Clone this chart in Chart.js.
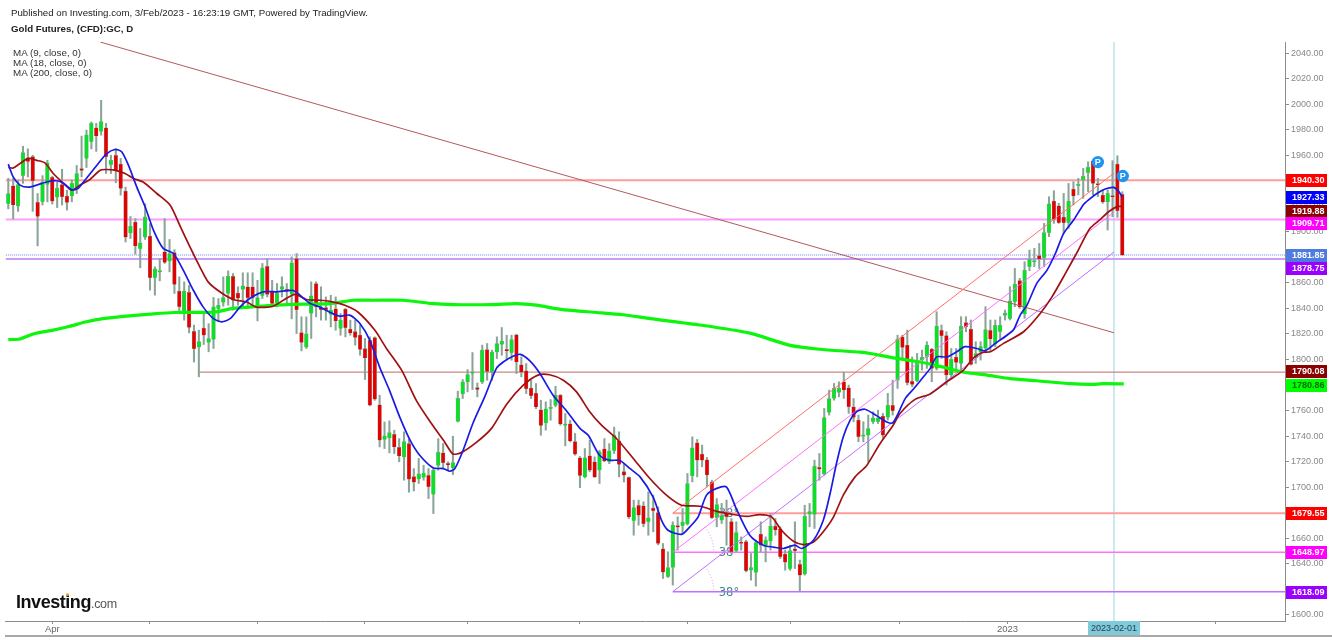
<!DOCTYPE html>
<html>
<head>
<meta charset="utf-8">
<title>Gold Futures</title>
<script src="https://cdn.jsdelivr.net/npm/chart.js@4"></script>
<style>
  body { margin: 0; background: #fff; font-family: "Liberation Sans", Arial, sans-serif; }
  #wrap { position: relative; width: 1332px; height: 640px; overflow: hidden; }
  canvas { position: absolute; left: 0; top: 0; }
  .txt { position: absolute; color: #222; white-space: nowrap; }
  .published { left: 11px; top: 7px; font-size: 9.7px; }
  .name { left: 11px; top: 23px; font-size: 9.7px; font-weight: bold; }
  .ma { left: 13px; font-size: 9.8px; line-height: 10px; color: #333; }
  .logo { left: 16px; top: 592px; font-size: 18px; font-weight: bold; color: #111; letter-spacing: -0.45px; }
  .logo span { font-size: 12.5px; font-weight: normal; color: #555; letter-spacing: -0.3px; }
  .dot { position: absolute; left: 66px; top: 593px; width: 3px; height: 3px; background: #f5a623; border-radius: 2px; }
</style>
</head>
<body>
<div id="wrap">
  <canvas id="chart" width="1332" height="640"></canvas>
  <div class="txt published">Published on Investing.com, 3/Feb/2023 - 16:23:19 GMT, Powered by TradingView.</div>
  <div class="txt name">Gold Futures, (CFD):GC, D</div>
  <div class="txt ma" style="top:48px">MA (9, close, 0)</div>
  <div class="txt ma" style="top:58px">MA (18, close, 0)</div>
  <div class="txt ma" style="top:68px">MA (200, close, 0)</div>
  <div class="txt logo">Investing<span>.com</span></div>
  <div class="dot"></div>
</div>
<script>
const opens = [1922,1936,1920,1944,1958,1959,1923,1923.5,1937,1942.6,1927,1937,1928,1928,1933.4,1949.6,1957.5,1970.5,1981.5,1978.6,1981.5,1952.5,1960,1953,1932,1899,1907.6,1886.7,1895.8,1896.6,1864,1868.4,1884.3,1877,1883.8,1853.5,1836.5,1852.5,1822,1809.6,1824.5,1813.3,1815.6,1839.7,1844.6,1851.7,1865.2,1852,1854.8,1856.9,1856.9,1840.4,1850,1873,1853.5,1843.8,1854.8,1855,1851,1879,1821,1809.6,1836,1859.5,1840.7,1840.7,
  1835.2,1839.6,1824.2,1839.4,1823.7,1821.9,1819,1808.6,1815,1817.2,1764.4,1737.2,1738.5,1741.4,1731.2,1723.4,1734.1,1708.3,1706.2,1707.5,1709.3,1694.2,1716.9,1726.8,1718.2,1715,1751.4,1773,1782.4,1789,1778,1782.2,1807.8,1790.3,1805.7,1811.7,1808,1805.2,1819.3,1795.8,1791,1777.5,1773.6,1760.5,1750.3,1761.3,1763.9,1772,1748.2,1749.5,1735.7,1722.9,1708,1724.4,1719.8,1713.2,1729.9,1719.8,1728.4,1736.2,1712.2,1707.7,
  1673.6,1685.8,1685.3,1672.8,1683.5,1680.1,1651.6,1629.7,1637,1669.4,1669.7,1671,1708.6,1734.7,1725.8,1721.4,1703.9,1675.9,1674.1,1679.8,1673,1650.1,1656.1,1657.4,1634.9,1633.1,1663.1,1654.5,1657.6,1669.4,1667.3,1647.5,1636,1651.6,1639.4,1631.8,1678.8,1678.5,1715.4,1710.1,1758.5,1769.4,1774.1,1782.5,1777.8,1762.9,1752.5,1739.7,1740.7,1751.1,1751.1,1755.6,1754.5,1764,
  1783.8,1817.8,1811.3,1782.8,1783.3,1799.5,1802.1,1808.1,1793,1822.8,1818.8,1787.8,1801.9,1796.9,1828.8,1823.8,1801.3,1805.8,1808.7,1822.8,1812,1821.7,1834.5,1831.9,1845.2,1861.7,1835.6,1872.6,1876.3,1881.3,1879.7,1899.3,1924.1,1920.4,1911.6,1907.1,1933.5,1936.1,1940.6,1946.3,1955.7,1937.2,1928.8,1923.3,1927.5,1953.1,1929.3];
const highs = [1942,1942,1940.5,1967,1965,1960,1930,1944,1956,1943.6,1939,1949,1932.6,1940.5,1952,1975,1979.7,1986,1985,2003,1985,1960,1965,1957.5,1935,1912,1910.4,1902.6,1922,1906.5,1872.6,1879,1910.4,1894,1886,1864.7,1860.8,1858,1826.9,1823,1836,1828,1848.5,1847.7,1864.7,1869.4,1867.3,1856.9,1867.9,1867.9,1867.9,1862,1875.2,1879,1862,1859.5,1864.7,1859.5,1880.4,1883,1833.4,1833.4,1860.8,1860.8,1856.9,1849,
  1850.3,1849,1836,1839.9,1830.8,1830.8,1826.8,1816.4,1817.7,1817.7,1772,1751,1751.9,1744.6,1738,1743.3,1738,1714.5,1722.4,1717.1,1714.5,1714.5,1738,1734.1,1719.8,1739.9,1775.1,1784.3,1792.1,1805.4,1781.6,1811.2,1812.5,1807.3,1817.7,1825,1819,1819,1819.8,1802,1796.8,1783.7,1781.1,1768.1,1766.8,1768.6,1779,1772.5,1757.6,1752.4,1742,1724,1730.2,1736.7,1723.7,1728.9,1738,1734.1,1747,1743.3,1718.4,1708,
  1689.8,1689.8,1688.5,1696.3,1693.7,1684.5,1655.8,1649.3,1672.8,1676.7,1683.2,1710.7,1739.4,1737.3,1732.9,1723.2,1705.4,1691,1687.2,1689.8,1675.4,1672.8,1661,1658.4,1648,1658.4,1672.8,1661,1679.3,1675.4,1668.9,1650.6,1654.5,1672.8,1642.8,1685.8,1687.2,1721.1,1726.3,1761.6,1776,1781.2,1782.5,1790,1779.9,1769.4,1756.4,1751.2,1756.4,1759,1760.3,1757.7,1773.4,1783.8,
  1819,1819,1823,1802,1804.7,1807.3,1813.9,1808.6,1837.4,1827,1821.7,1808.6,1808.6,1833.5,1833.5,1830.9,1813.9,1813.9,1841.3,1830.9,1830.9,1833.5,1838.7,1857,1871.3,1863.5,1876.6,1885.7,1887,1890.9,1906.6,1927.5,1932.2,1922.3,1930.1,1937.9,1939.3,1941.9,1949.7,1954.9,1956.2,1941.9,1932.7,1932.7,1955.7,1959.6,1931.4];
const lows = [1918,1910,1916,1938,1943,1916,1889,1921,1923.5,1921.7,1919,1921,1917,1923.5,1930,1943,1950.4,1965,1963,1975.7,1945.7,1945.7,1938.4,1928.7,1892,1894.8,1882.5,1871.8,1894,1854.3,1850.4,1861.6,1875.2,1868.6,1851.7,1836,1830.8,1820.8,1798,1786.4,1811.7,1806,1808.6,1829.5,1841.7,1842.5,1838.6,1842.5,1840,1840,1841.2,1830.2,1847.7,1849,1841.2,1841.2,1849,1842.5,1831.8,1820.3,1806.7,1808.6,1816.4,1833.4,1830.8,1830.8,
  1825.5,1822.9,1819,1817.7,1819,1811.2,1803.3,1784.3,1763.6,1768,1731.5,1730.2,1726.8,1726.3,1719.8,1705.4,1696,1697,1702.8,1705.4,1691,1679.3,1713.2,1714.5,1713.2,1709.8,1751,1769.4,1774.6,1776.4,1770.7,1781.1,1783.7,1783.7,1800.7,1803.3,1799.4,1799.4,1789,1786.4,1773.3,1769.4,1761.5,1740.6,1744.6,1752.4,1762.8,1748.5,1732.3,1735.4,1725,1699.6,1707.2,1711.9,1707.5,1702.8,1719.8,1718.4,1726.3,1708,1704,1675.3,
  1662.3,1670.2,1668.9,1662.3,1665,1654.8,1628.4,1629.2,1623.2,1650.6,1663.6,1670.2,1704.1,1708,1715.9,1700.2,1675.4,1668.9,1671.5,1654.5,1648,1649.3,1650.6,1633.6,1627.1,1622.4,1649.3,1641.4,1650.6,1662.3,1644.1,1634.9,1634.9,1636.2,1618.7,1631,1668.9,1667.6,1705.4,1709.4,1756.4,1768.1,1770.7,1769.4,1757.7,1751.2,1735.5,1735.5,1719.8,1749.8,1749.8,1738.1,1752.5,1756.4,
  1777.3,1799.5,1779.9,1778.6,1782.5,1791.7,1793,1782.5,1791.7,1800.8,1779.9,1785.1,1791.7,1791.7,1821.7,1795.6,1796.9,1799.5,1806,1806,1810,1815.2,1830.9,1830.9,1841.3,1840,1832.2,1869.5,1872.6,1871.3,1872.6,1896.2,1906.6,1906.6,1898.8,1902.7,1921,1928.8,1926.2,1931.4,1928.8,1927.5,1922.3,1901.4,1911.8,1911.3,1881.5];
const closes = [1930,1921,1937,1962,1955,1940,1912,1939,1954,1924,1934,1927.4,1923,1938,1945.7,1948,1976,1985,1975,1986.4,1958.8,1956,1947.8,1934,1895.8,1904.4,1888.8,1891.4,1911.7,1864,1871,1869,1876,1883,1858.7,1841.2,1853.5,1825,1808.3,1814,1819,1816.4,1841.2,1842.5,1848.5,1865.2,1846.4,1848,1857.7,1848.3,1848.3,1848.5,1871.8,1850.9,1843.8,1852,1857,1853.2,1875.7,1839,1813.3,1820,1849.8,1841.2,1839,1839,
  1838.6,1830.2,1830.8,1824.8,1820.8,1817.2,1807.8,1801.2,1764.1,1768.9,1736.7,1740.1,1742.7,1731.5,1724.4,1735.7,1706.2,1703.8,1710.3,1710.9,1700.2,1713.2,1727.3,1719,1717.4,1719.2,1769.6,1782.4,1788.2,1790.3,1776.4,1807.3,1790.5,1805.7,1812.5,1814.3,1806.7,1815.6,1798.1,1790,1777,1771.5,1762.8,1748.2,1761.3,1761.8,1772,1749.5,1749.5,1736.2,1725.8,1709,1722.9,1713.2,1708,1727.6,1720.5,1728.4,1740.6,1717.7,1709.3,1676.6,
  1684,1678,1671.2,1675.9,1681.4,1655.8,1633.3,1637,1670.2,1668.6,1672.5,1702.8,1730.8,1721.1,1721.1,1709.4,1675.9,1686.4,1678,1676.7,1649.3,1664.4,1655.8,1634.4,1637,1656.6,1654.5,1658.4,1669.4,1666.3,1645.4,1641.2,1650.3,1650.1,1631,1677.2,1680.9,1716.4,1714,1754.5,1769.4,1777.3,1777.3,1776,1762.9,1754.5,1739.4,1740.2,1745.9,1754.3,1754.3,1740.7,1764,1759.8,
  1815.7,1809.4,1781.8,1780.4,1798.5,1801.6,1811.3,1793,1826.1,1818.6,1787.8,1800,1797.7,1826.1,1825.6,1796.1,1804.7,1810,1823.5,1816,1826.7,1826.7,1836.3,1846,1859,1841,1869.8,1878.4,1876.8,1878.9,1899.3,1922,1909.7,1907.1,1907.1,1924.1,1928,1936.6,1943.4,1950.5,1937.9,1936.6,1923.3,1930.1,1927.2,1916.5,1881.85];

const ma9Idx = [0,1,2.4,4.1,5.8,7.8,9.9,11.3,13,14.3,16,18.1,20.1,21.8,23.2,24.6,26.3,28,29.7,31.7,33.8,35.8,37.9,39.9,42,43.7,45.4,47.4,49.5,52.2,54.9,58.3,60.4,61.7,63.8,65.8,67.8,69.9,72,74,76,78,80.1,82.2,84.2,87,89,90.4,91.4,93.1,95.1,97.5,99.9,101.3,103.3,104.8,106.7,108.8,111.5,114.2,117,118.7,121,123.1,125.1,127.2,129.3,132,133.7,135.1,137.8,139.5,141.2,142.9,145,147,149,151.8,154.5,156.6,158.6,161,162.4,164.8,166.8,168.2,169.5,170.9,172.3,173.6,175.3,177.7,179.8,181.1,183.6,185.3,187.3,188.7,190,192.1,194.1,195.8,198.2,199.9,202,204,205.7,207.1,208.5,210.5,212.6,214.3,216,218,220,221.1,222.8,224.5,226.2,227.2,228];
const ma9Val = [1953,1943,1936.6,1935,1936.6,1939,1940,1938,1933,1934,1942,1952,1961,1964.5,1962.7,1952,1935,1919.6,1901.3,1887,1883,1870,1854,1841,1832,1829.5,1832,1841,1848,1853,1853,1854,1848,1844,1841,1837,1834,1834.7,1828,1815,1794,1776,1755,1737,1725,1715,1714.5,1712.4,1714.5,1729,1750,1770.7,1793,1798,1802.5,1804,1799,1789,1772,1760,1746,1740.6,1725,1721,1721,1714.6,1708,1692,1674,1666,1663,1668.9,1676.7,1693.7,1699,1700,1683,1662,1654.5,1653,1651.9,1654.5,1651.9,1658.4,1674,1695,1718.5,1739.4,1752.5,1759,1761,1756,1751,1750.6,1769.5,1777,1786.4,1793,1802,1802,1806,1810,1808.6,1806.8,1812.6,1817.8,1823,1834.8,1842.6,1859.6,1870,1883,1898.8,1909,1921,1925,1930,1933.5,1934.8,1932,1927.33];

const ma18Idx = [0,1,2.4,4.1,5.8,7.5,9.2,11.3,13,14.7,16.7,18.8,20.1,21.8,23.9,25.6,27.6,30.4,33.1,35.1,37.2,39.2,40.9,43.3,46,48.8,50.8,54.2,56.3,58.7,61,63.8,65.8,68.9,71.6,75,77.4,80.5,83.5,86.6,89.3,91,92.7,95.8,98.9,102,105.4,108.4,110.8,113.6,116.3,119,121.4,124.6,128,131.3,134.7,137.8,141.6,145,147.7,151.1,153.8,156.2,158.3,160.7,162.7,164.8,166.8,168.9,170.9,173.3,175.7,178.4,181.1,182.5,185.6,188.7,192.1,195.5,197.5,199.3,201,203.7,207.8,211.2,213.6,216.3,219,221.4,223.5,225.2,226.9,228];
const ma18Val = [1950.4,1950,1953.5,1957.5,1956,1954,1945.7,1938,1932.6,1936.6,1941,1948.3,1948.8,1948.3,1945.7,1941.8,1939,1930,1921,1905,1888,1872.6,1860.8,1853,1847,1845,1841,1841.7,1846.4,1851,1847,1846.4,1845.5,1842.5,1837,1823,1808.6,1791.6,1768,1749.8,1735.4,1726,1727,1735,1746,1765,1779.8,1787.7,1788,1783.7,1774.6,1759,1748.5,1737.5,1722,1706.7,1693.7,1685.8,1685,1681,1679,1677,1678.5,1676.7,1666,1657.6,1655,1657,1665,1676.7,1693.7,1708,1717,1734,1748.5,1757.7,1768.7,1773,1782.5,1791.7,1801,1805.5,1806,1812.6,1821.7,1836,1849,1867,1885.7,1902.7,1909.7,1915.7,1919.7,1919.88];

const ma200Idx = [0,2.4,5.1,9.2,12.6,16,19.4,24.2,29,33.8,42,46,51.5,57,65.8,70.6,74.7,80.8,86.3,91,99.2,104,108.1,113.5,120.4,125.8,131.4,141.6,151.8,160,166,174.3,176.4,181.5,186.6,191.4,195.5,200.3,205,210.5,217.3,221.4,224.1,228.3];
const ma200Val = [1815.6,1816,1820,1823,1826,1829.5,1832,1834,1835.5,1836.8,1837,1840,1841.7,1843,1843.8,1846.4,1846.4,1846.4,1844,1843,1843,1843.8,1842.5,1839,1836.8,1835,1832,1827,1820.6,1811,1808,1805.7,1804.7,1801,1798,1794,1790,1787.7,1785,1783.3,1781,1780.4,1781,1780.86];

const hLevels = [1940.30,1909.71,1881.85,1878.75,1790.08,1679.55,1648.97,1618.09];
const hStartIdx = [-0.5,-0.5,-0.5,-0.5,39,136,136,136];
const hColors = ['#ff9c9c','#ff9cff','#b3c4f2','#cc9cf8','#bd6a6a','#ff9c9c','#ff70ff','#c070ff'];
const hWidths = [2,2,2,2,1,2,1.5,1.5];

const rayStartIdx = [136,136,136,18.8];
const rayEndIdx = [226.3,226.3,226.3,226.3];
const rayStartVal = [1679.55,1648.97,1618.09,2048.7];
const rayEndVal = [1946,1915.4,1884.2,1820.9];
const rayColors = ['#ff6e6e','#ff70ff','#bb70ff','#b25a5a'];

const priceLabels = [1940.30,1927.33,1919.88,1909.71,1881.85,1878.75,1790.08,1780.86,1679.55,1648.97,1618.09];
const priceLabelColors = ['#ff0000','#0000ff','#8b0000','#ff00ff','#4f7be0','#9900ff','#8b0000','#00ff00','#ff0000','#ff00ff','#9900ff'];
const priceTextColors = ['#fff','#fff','#fff','#fff','#fff','#fff','#fff','#0a6a0a','#fff','#fff','#fff'];
// the pills spread apart where their levels would overlap
const pillShift = [0,0,4.5,4,0,9.5,-1,1,0,0,0];

const yTicks = [1600,1620,1640,1660,1680,1700,1720,1740,1760,1780,1800,1820,1840,1860,1880,1900,1920,1940,1960,1980,2000,2020,2040];
const xTickIdx = [9,29,51,73,94,117,139,160,182.5,204.5,226.3,247];
const xTickLabels = ['Apr','','','','','','','','','2023','',''];
const selectedDate = '2023-02-01';
const selectedIdx = 226.3;
const pinIdx = [223,228.1];
const pinVal = [1954.6,1943.7];
const angleText = '38°';

const upColor = '#0ae024';
const downColor = '#e60000';
const wickColor = '#8aa598';

function lineSet(xs, ys, color, width, order, extra) {
  return Object.assign({
    type: 'line',
    data: xs.map((x, i) => ({ x, y: ys[i] })),
    borderColor: color,
    borderWidth: width,
    pointRadius: 0,
    tension: 0,
    order
  }, extra || {});
}

const datasets = [];

// candles
datasets.push({
  type: 'bar',
  data: opens.map((o, i) => ({ x: i, y: [lows[i], highs[i]] })),
  backgroundColor: wickColor,
  barThickness: 1.4,
  grouped: false,
  order: 6
});
datasets.push({
  type: 'bar',
  data: opens.map((o, i) => ({ x: i, y: [o, closes[i]] })),
  backgroundColor: opens.map((o, i) => closes[i] >= o ? upColor : downColor),
  borderColor: wickColor,
  borderWidth: 0.5,
  barThickness: 3.7,
  minBarLength: 1.5,
  grouped: false,
  order: 5
});

// horizontal levels run to the right edge
hLevels.forEach((v, i) => {
  const dotted = i === 2 ? { borderDash: [1, 1] } : {};
  datasets.push(lineSet([hStartIdx[i], 261.3], [v, v], hColors[i], hWidths[i], 7, dotted));
});

// trend rays
rayStartIdx.forEach((x, i) => {
  datasets.push(lineSet([x, rayEndIdx[i]], [rayStartVal[i], rayEndVal[i]], rayColors[i], 1, 4));
});

datasets.push(lineSet([selectedIdx, selectedIdx], [1595.1, 2048.7], '#98d4df', 1, 8));

// moving averages on top
datasets.push(lineSet(ma200Idx, ma200Val, '#0cf50c', 3.2, 3, { tension: 0.2 }));
datasets.push(lineSet(ma18Idx, ma18Val, '#a01010', 1.7, 2, { tension: 0.25 }));
datasets.push(lineSet(ma9Idx, ma9Val, '#1a1ae6', 1.7, 1, { tension: 0.25 }));

const overlay = {
  id: 'overlay',
  // angle arcs and texts sit under the candles
  beforeDatasetsDraw(chart) {
    const { ctx, scales: { x, y } } = chart;
    const ax = x.getPixelForValue(rayStartIdx[0]);
    ctx.save();
    rayStartVal.slice(0, 3).forEach(v => {
      const ay = y.getPixelForValue(v);
      ctx.beginPath();
      ctx.setLineDash([1, 2]);
      ctx.strokeStyle = '#e08cf2';
      ctx.lineWidth = 1;
      ctx.arc(ax, ay, 41, -0.66, 0);
      ctx.stroke();
      ctx.setLineDash([]);
      ctx.fillStyle = '#3e8a86';
      ctx.font = '11.5px "DejaVu Sans", sans-serif';
      ctx.textAlign = 'left';
      ctx.textBaseline = 'middle';
      ctx.fillText(angleText, ax + 46, ay + 1);
    });
    ctx.restore();
  },
  afterDraw(chart) {
    const { ctx, scales: { x, y } } = chart;
    ctx.save();

    // price pills on the axis
    ctx.font = 'bold 9px "Liberation Sans", Arial, sans-serif';
    ctx.textAlign = 'left';
    ctx.textBaseline = 'middle';
    priceLabels.forEach((v, i) => {
      const py = Math.round(y.getPixelForValue(v) + pillShift[i]);
      ctx.fillStyle = priceLabelColors[i];
      ctx.fillRect(1286, py - 6, 41, 13);
      ctx.fillStyle = priceTextColors[i];
      ctx.fillText(v.toFixed(2), 1292, py + 1);
    });

    // selected date
    const dx = x.getPixelForValue(selectedIdx);
    ctx.fillStyle = '#7fcbdc';
    ctx.fillRect(dx - 26, 621, 52, 14);
    ctx.fillStyle = '#27424a';
    ctx.textAlign = 'center';
    ctx.font = '9px "Liberation Sans", Arial, sans-serif';
    ctx.fillText(selectedDate, dx, 629);

    // bottom band
    ctx.fillStyle = '#a8a8a8';
    ctx.fillRect(5, 635, 1327, 2);

    // pin markers
    pinIdx.forEach((p, i) => {
      const px = x.getPixelForValue(p);
      const py = y.getPixelForValue(pinVal[i]);
      ctx.beginPath();
      ctx.arc(px, py, 6.2, 0, Math.PI * 2);
      ctx.fillStyle = '#1e96f0';
      ctx.fill();
      ctx.fillStyle = '#fff';
      ctx.font = 'bold 9px "Liberation Sans", Arial, sans-serif';
      ctx.fillText('P', px, py + 0.5);
    });

    ctx.restore();
  }
};

new Chart(document.getElementById('chart'), {
  type: 'bar',
  data: { datasets },
  plugins: [overlay],
  options: {
    responsive: false,
    animation: false,
    events: [],
    layout: { padding: { top: 42, left: 5, right: 0, bottom: 0 } },
    plugins: { legend: { display: false }, tooltip: { enabled: false } },
    scales: {
      x: {
        type: 'linear',
        offset: false,
        min: -0.675,
        max: 261.3,
        border: { color: '#8c8c8c', width: 1 },
        grid: { offset: false, drawOnChartArea: false, tickLength: 3, color: '#8c8c8c' },
        ticks: {
          autoSkip: false,
          maxRotation: 0,
          color: '#666',
          padding: 0,
          font: { family: '"Liberation Sans", Arial, sans-serif', size: 9.5 },
          callback: (v, i) => xTickLabels[i]
        },
        afterBuildTicks: s => { s.ticks = xTickIdx.map(value => ({ value })); },
        afterFit: s => { s.height = 19; }
      },
      y: {
        position: 'right',
        min: 1595.1,
        max: 2048.7,
        border: { color: '#8c8c8c', width: 1 },
        grid: { drawOnChartArea: false, tickLength: 4, color: '#8c8c8c' },
        ticks: {
          color: '#888',
          padding: 2,
          font: { family: '"Liberation Sans", Arial, sans-serif', size: 9 },
          callback: v => v.toFixed(2)
        },
        afterBuildTicks: s => { s.ticks = yTicks.map(value => ({ value })); },
        afterFit: s => { s.width = 47; }
      }
    }
  }
});
</script>
</body>
</html>
